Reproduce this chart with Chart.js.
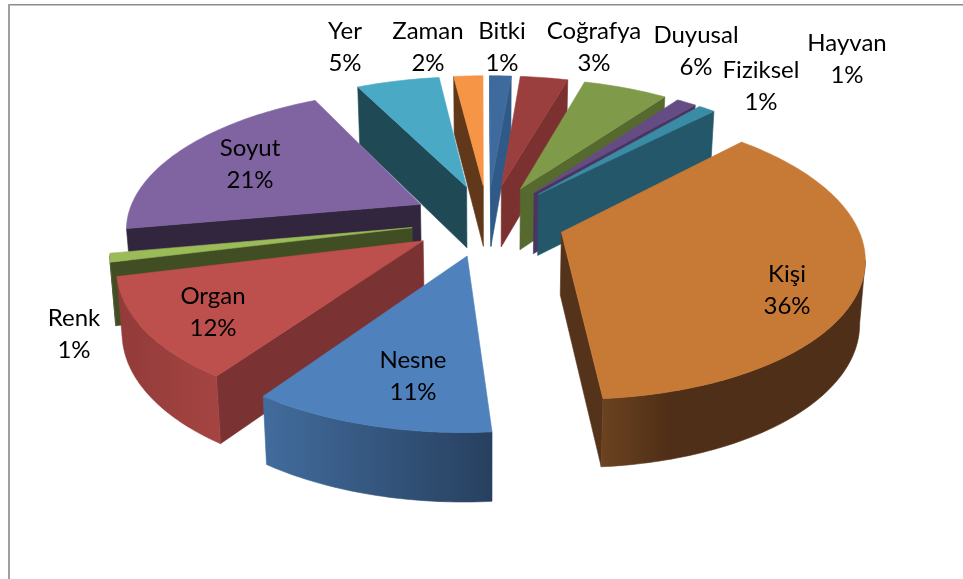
<!DOCTYPE html>
<html>
<head>
<meta charset="utf-8">
<style>html,body{margin:0;padding:0;background:#fff}#wrap{width:963px;height:579px}</style>
<script src="https://cdn.jsdelivr.net/npm/chart.js@4"></script>
</head>
<body>
<div id="wrap"><canvas id="c" width="963" height="579"></canvas></div>
<script>
const categories = ["Yer","Zaman","Bitki","Coğrafya","Duyusal","Fiziksel","Hayvan","Kişi","Nesne","Organ","Renk","Soyut"];
const percentages = [5.4,1.9,1.4,3.1,5.5,1.3,1.1,36.4,10.9,11.5,1.0,20.5];

const topColors  = ["#4aa9c4","#f69546","#3e6a9e","#9a3f3d","#7f9a48","#664c85","#3a8ca5","#c77a36","#4f81bd","#bd4f4c","#9bbb59","#8064a2"];
const edgeColors = ["#1e4955","#61391a","#2f5a87","#7b3130","#566a2f","#4a3560","#25576a","#55331a","#2f5179","#7b3232","#414d23","#32263f"];
const wallLeft   = ["#2d6f80","#8a5220","#2f5a87","#7b3130","#566a2f","#4a3560","#25576a","#6b421f","#426c9d","#923b39","#414d23","#4c3b61"];
const wallRight  = ["#2d6f80","#8a5220","#2f5a87","#7b3130","#566a2f","#4a3560","#25576a","#4f2f17","#27405f","#a44442","#4f5e2b","#32263f"];
const wallStop   = [1,1,1,1,1,1,1,0.25,1,1,1,1];
const labelAnchors = [[345,47],[428,47],[502,47],[594,47],[696,51],[761,86],[847,59],[787,290],[413,376],[213,312],[74,334],[250,164]];

const CX = 488, CY = 220, R = 294, S = 0.465, K = 0.155, D = 62, TAPER = 0.015;
function project(u, v, z) {
  const w = 1 / (1 - K * v);
  return { x: CX + R * u * w * (1 - z * TAPER), y: CY + R * S * v * w + z * D * (1 + (w - 1) * 0.5) };
}
function tracePath(ctx, pts) {
  ctx.beginPath();
  pts.forEach((p, i) => i ? ctx.lineTo(p.x, p.y) : ctx.moveTo(p.x, p.y));
  ctx.closePath();
}
function fillPath(ctx, pts, style) {
  tracePath(ctx, pts);
  ctx.fillStyle = style; ctx.strokeStyle = style; ctx.lineWidth = 0.6;
  ctx.fill(); ctx.stroke();
}
const pie3d = {
  id: 'pie3d',
  beforeDatasetsDraw(chart) {
    const ctx = chart.ctx;
    const arcs = chart.getDatasetMeta(0).data;
    const slices = arcs.map((el, i) => {
      const off = el.options.offset / el.outerRadius;
      const mid = (el.startAngle + el.endAngle) / 2;
      const ax = off * Math.cos(mid), ay = off * Math.sin(mid);
      const n = Math.max(2, Math.ceil((el.endAngle - el.startAngle) / (Math.PI / 180)));
      const ring = [];
      for (let k = 0; k <= n; k++) {
        const a = el.startAngle + (el.endAngle - el.startAngle) * k / n;
        ring.push([ax + Math.cos(a), ay + Math.sin(a)]);
      }
      const cen = ay + (2 / 3) * Math.sin(mid);
      return { i, apex: [ax, ay], ring, cen };
    }).sort((a, b) => a.cen - b.cen);

    slices.forEach(sl => {
      const i = sl.i;
      const P = (q, z) => project(q[0], q[1], z);
      const quad = (a, b) => [P(a, 0), P(b, 0), P(b, 1), P(a, 1)];
      const first = sl.ring[0], last = sl.ring[sl.ring.length - 1];
      if (P(first, 0).x < P(sl.apex, 0).x) fillPath(ctx, quad(sl.apex, first), edgeColors[i]);
      if (P(sl.apex, 0).x < P(last, 0).x) fillPath(ctx, quad(last, sl.apex), edgeColors[i]);
      const run = sl.ring.filter((q, k) => {
        const prev = sl.ring[k - 1], next = sl.ring[k + 1];
        return (next && P(next, 0).x < P(q, 0).x) || (prev && P(q, 0).x < P(prev, 0).x);
      });
      if (run.length > 1) {
        const xs = run.map(q => P(q, 0).x);
        const g = ctx.createLinearGradient(Math.min(...xs), 0, Math.max(...xs), 0);
        g.addColorStop(0, wallLeft[i]);
        g.addColorStop(wallStop[i], wallRight[i]);
        fillPath(ctx, [...run.map(q => P(q, 0)), ...run.slice().reverse().map(q => P(q, 1))], g);
      }
      fillPath(ctx, [P(sl.apex, 0), ...sl.ring.map(q => P(q, 0))], topColors[i]);
    });
    return false;
  },
  afterDraw(chart) {
    const ctx = chart.ctx;
    ctx.save();
    ctx.fillStyle = '#8c8c8c';
    ctx.fillRect(8, 4, 955, 1.5);
    ctx.fillStyle = '#a0a0a0';
    ctx.fillRect(8, 4, 2, 575);
    ctx.fillStyle = '#000';
    ctx.font = '24px Lato, "Open Sans", sans-serif';
    ctx.textAlign = 'center';
    ctx.textBaseline = 'middle';
    categories.forEach((name, i) => {
      const [x, y] = labelAnchors[i];
      ctx.fillText(name, x, y - 16);
      ctx.fillText(Math.round(percentages[i]) + '%', x, y + 16);
    });
    ctx.restore();
  }
};
new Chart(document.getElementById('c'), {
  type: 'pie',
  data: {
    labels: categories,
    datasets: [{ data: percentages, backgroundColor: topColors, borderWidth: 0, offset: 67 }]
  },
  options: {
    responsive: false,
    animation: false,
    rotation: -26.5,
    plugins: { legend: { display: false }, tooltip: { enabled: false } }
  },
  plugins: [pie3d]
});
</script>
</body>
</html>
